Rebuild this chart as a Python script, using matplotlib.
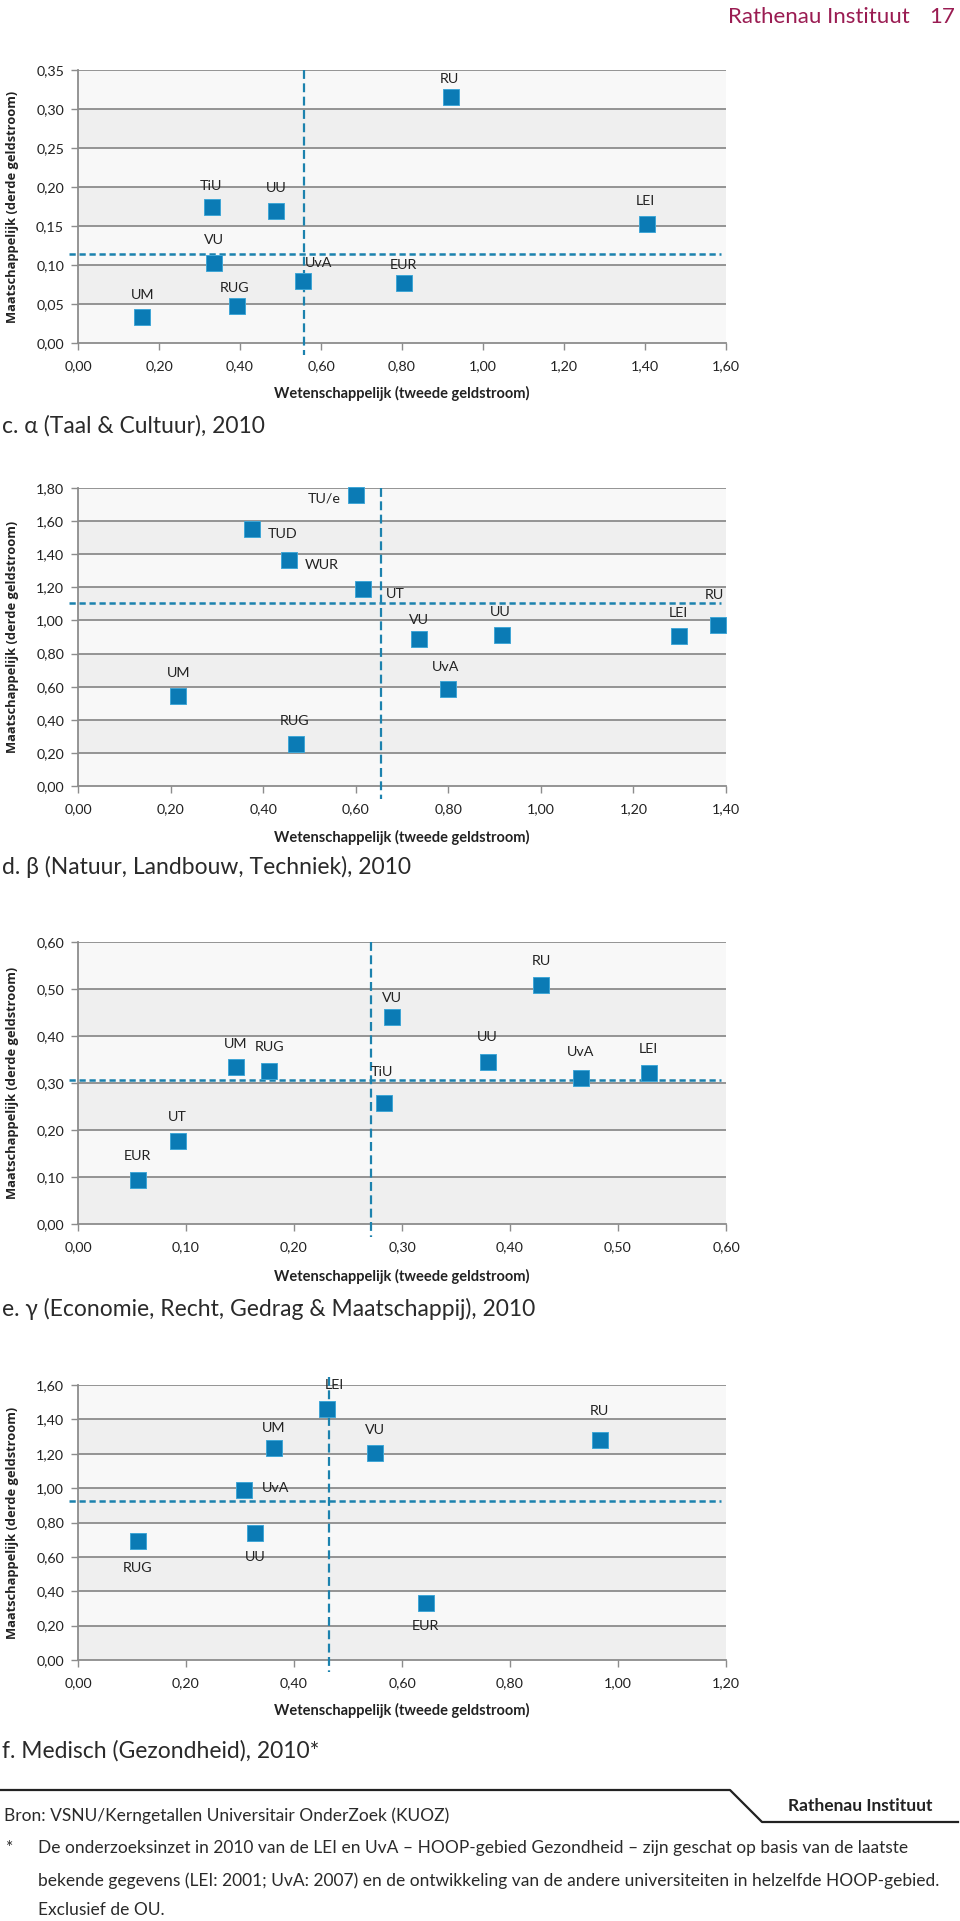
import matplotlib.pyplot as plt
from matplotlib.lines import Line2D

plt.rcParams['font.family'] = ['Lato', 'DejaVu Sans']

# --- data ---
alpha_names = ['RU', 'TiU', 'UU', 'LEI', 'VU', 'UvA', 'EUR', 'RUG', 'UM']
alpha_x = [0.92, 0.33, 0.49, 1.405, 0.336, 0.555, 0.805, 0.392, 0.159]
alpha_y = [0.316, 0.175, 0.169, 0.153, 0.103, 0.079, 0.077, 0.047, 0.033]
alpha_mean = (0.558, 0.114)

beta_names = ['TU/e', 'TUD', 'WUR', 'UT', 'RU', 'VU', 'UU', 'LEI', 'UvA', 'UM', 'RUG']
beta_x = [0.600, 0.375, 0.455, 0.615, 1.383, 0.737, 0.916, 1.299, 0.799, 0.217, 0.472]
beta_y = [1.756, 1.552, 1.364, 1.187, 0.975, 0.886, 0.912, 0.908, 0.587, 0.543, 0.254]
beta_mean = (0.654, 1.104)

gamma_names = ['RU', 'VU', 'UM', 'RUG', 'UU', 'UvA', 'LEI', 'TiU', 'UT', 'EUR']
gamma_x = [0.429, 0.291, 0.146, 0.177, 0.380, 0.466, 0.529, 0.283, 0.0925, 0.056]
gamma_y = [0.508, 0.441, 0.335, 0.325, 0.345, 0.311, 0.322, 0.258, 0.176, 0.093]
gamma_mean = (0.271, 0.306)

med_names = ['LEI', 'RU', 'UM', 'VU', 'UvA', 'UU', 'RUG', 'EUR']
med_x = [0.461, 0.967, 0.3625, 0.550, 0.308, 0.328, 0.111, 0.644]
med_y = [1.460, 1.281, 1.236, 1.205, 0.990, 0.737, 0.694, 0.334]
med_mean = (0.464, 0.923)

titles = ['c. \u03b1 (Taal & Cultuur), 2010',
          'd. \u03b2 (Natuur, Landbouw, Techniek), 2010',
          'e. \u03b3 (Economie, Recht, Gedrag & Maatschappij), 2010',
          'f. Medisch (Gezondheid), 2010*']

# label offsets in pixels (dx, dy up) -- layout only
alpha_off = [(-1, 18), (-1, 21), (0, 23), (-2, 23), (0, 23), (16, 18), (-1, 18), (-2, 18), (0, 22)]
beta_off = [(-32, -3), (31, -5), (33, -5), (33, -5), (-4, 30), (0, 19), (-2, 23), (-1, 23),
            (-2, 22), (0, 23), (-2, 23)]
gamma_off = [(0, 24), (0, 19), (0, 23), (0, 24), (-1, 25), (-1, 26), (-1, 24), (-2, 31), (-1, 24), (-1, 24)]
med_off = [(7, 24), (-1, 29), (0, 20), (0, 23), (31, 2), (0, -24), (0, -27), (0, -23)]

W, H = 960, 1921
fig = plt.figure(figsize=(W / 100, H / 100), dpi=100)


def fy(py):
    return 1 - py / H


BLUE = '#0B7BB5'
DASH = '#1C82AE'
GRID = '#8C8C8C'
TXT = '#222222'

panels = [
    (alpha_names, alpha_x, alpha_y, alpha_mean, alpha_off, 1.6, 0.2, 0.35, 0.05, 70, 343, 393, 426, 1.0),
    (beta_names, beta_x, beta_y, beta_mean, beta_off, 1.4, 0.2, 1.8, 0.2, 488, 786, 837, 867, 1.0),
    (gamma_names, gamma_x, gamma_y, gamma_mean, gamma_off, 0.6, 0.1, 0.6, 0.1, 942, 1224, 1276, 1309, 1.0),
    (med_names, med_x, med_y, med_mean, med_off, 1.2, 0.2, 1.6, 0.2, 1385, 1660, 1710, 1751, 1.03),
]

left, right = 78, 726
for i, (names, xs, ys, mean, offs, xmax, xstep, ymax, ystep, top, bot, xly, tty, vtop) in enumerate(panels):
    ax = fig.add_axes([left / W, fy(bot), (right - left) / W, (bot - top) / H])
    ax.set_xlim(0, xmax)
    ax.set_ylim(0, ymax)
    ax.set_facecolor('none')

    nx = int(round(xmax / xstep))
    ny = int(round(ymax / ystep))
    xt = [k * xstep for k in range(nx + 1)]
    yt = [k * ystep for k in range(ny + 1)]

    # alternating bands, starting light at the top
    for k in range(ny):
        lo, hi = yt[ny - k - 1], yt[ny - k]
        ax.axhspan(lo, hi, color='#F8F8F8' if k % 2 == 0 else '#EFEFEF', zorder=0, lw=0)
    for v in yt[1:]:
        ax.axhline(v, color=GRID, lw=1.3, zorder=1)

    ax.set_xticks(xt)
    ax.set_yticks(yt)
    ax.set_xticklabels([f'{v:.2f}'.replace('.', ',') for v in xt])
    ax.set_yticklabels([f'{v:.2f}'.replace('.', ',') for v in yt])
    ax.tick_params(axis='both', colors=GRID, labelcolor=TXT, labelsize=10.3, length=5, width=1)
    ax.tick_params(axis='x', pad=7)
    ax.tick_params(axis='y', pad=5)
    for s in ['top', 'right']:
        ax.spines[s].set_visible(False)
    for s in ['left', 'bottom']:
        ax.spines[s].set_color(GRID)
        ax.spines[s].set_linewidth(1.3)

    # mean lines
    ax.plot([mean[0], mean[0]], [vtop, -0.045], transform=ax.get_xaxis_transform(),
            color=DASH, lw=1.6, ls=(0, (4, 2)), clip_on=False, zorder=3)
    ax.plot([-0.014, 0.992], [mean[1], mean[1]], transform=ax.get_yaxis_transform(),
            color=DASH, lw=1.8, ls=(0, (2.5, 1.5)), clip_on=False, zorder=3)

    ax.plot(xs, ys, 's', color=BLUE, markersize=11, markeredgecolor='#3FA6D6',
            markeredgewidth=0.7, clip_on=False, zorder=4)
    for n, x, y, (dx, dy) in zip(names, xs, ys, offs):
        ax.annotate(n, (x, y), xytext=(dx * 0.72, dy * 0.72), textcoords='offset points',
                    ha='center', va='center', fontsize=10.3, color=TXT, zorder=5)

    fig.text(13 / W, fy((top + bot) / 2), 'Maatschappelijk (derde geldstroom)', rotation=90,
             ha='center', va='center', fontsize=9.3, fontweight='bold',
             family=['Open Sans', 'DejaVu Sans'], color=TXT)
    fig.text((left + right) / 2 / W, fy(xly), 'Wetenschappelijk (tweede geldstroom)',
             ha='center', va='center', fontsize=10.5, fontweight='bold', color=TXT)
    fig.text(2 / W, fy(tty), titles[i], ha='left', va='center', fontsize=16.5, color='#2a2a2a')

# header
fig.text(910 / W, fy(23), 'Rathenau Instituut', ha='right', va='baseline', fontsize=16,
         color='#9A1C52')
fig.text(955 / W, fy(23), '17', ha='right', va='baseline', fontsize=16, color='#9A1C52')

# footer
fig.add_artist(Line2D([0, 730 / W, 762 / W, 958 / W], [fy(1790), fy(1790), fy(1822), fy(1822)],
                      transform=fig.transFigure, color=TXT, lw=1.6))
fig.text(860 / W, fy(1806), 'Rathenau Instituut', ha='center', va='center', fontsize=12.5,
         fontweight='bold', color=TXT)
fig.text(4 / W, fy(1816), 'Bron: VSNU/Kerngetallen Universitair OnderZoek (KUOZ)', ha='left',
         va='center', fontsize=12.5, color='#2a2a2a')
fig.text(6 / W, fy(1848), '*', ha='left', va='center', fontsize=12.5, color='#2a2a2a')
notes = ['De onderzoeksinzet in 2010 van de LEI en UvA \u2013 HOOP-gebied Gezondheid \u2013 zijn geschat op basis van de laatste',
         'bekende gegevens (LEI: 2001; UvA: 2007) en de ontwikkeling van de andere universiteiten in helzelfde HOOP-gebied.',
         'Exclusief de OU.']
for ny_, line in zip([1848, 1881, 1910], notes):
    fig.text(38 / W, fy(ny_), line, ha='left', va='center', fontsize=12.5, color='#2a2a2a')

fig.savefig('out.png', dpi=100, facecolor='white')
